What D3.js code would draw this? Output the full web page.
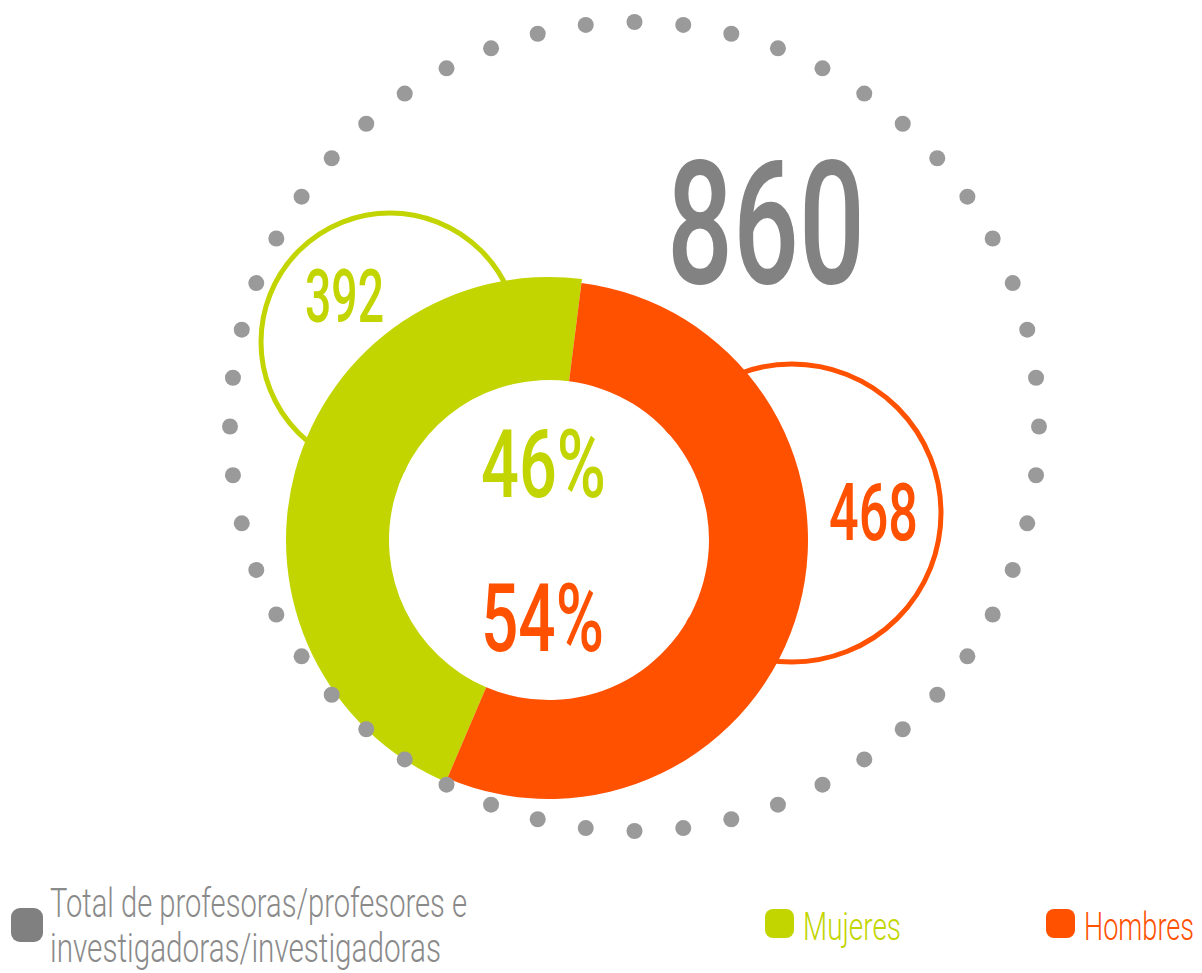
<!DOCTYPE html>
<html lang="es">
<head>
  <meta charset="UTF-8">
  <title>Profesoras y profesores</title>
  <script src="https://d3js.org/d3.v7.min.js"></script>
  <style>
    body { margin: 0; background: #fff; }
    svg { display: block; }
    text { font-family: Roboto, "Noto Sans", sans-serif; }
  </style>
</head>
<body>
  <svg width="1202" height="973"></svg>
  <script>
    // data
    const categories = ["Mujeres", "Hombres"];
    const values = [392, 468];
    const colors = ["#c2d500", "#ff5100"];
    const total = 860;
    const totalLabel = ["Total de profesoras/profesores e", "investigadoras/investigadoras"];

    const svg = d3.select("svg");
    const pct = d3.format(".0%");

    // condensed look: squeeze text to a given width
    function fit(sel, w) {
      return sel.attr("textLength", w).attr("lengthAdjust", "spacingAndGlyphs");
    }

    // outer dotted ring
    const ring = { cx: 634.5, cy: 426.5, r: 404.5, n: 52 };
    const dotAngle = d3.scaleLinear().domain([0, ring.n]).range([0, 2 * Math.PI]);

    // small bubbles with counts
    const bubbles = [
      { cx: 390, cy: 342, r: 129, tx: 305, ty: 322, size: 74, w: 79 },
      { cx: 792, cy: 513, r: 149, tx: 829, ty: 540, size: 80, w: 89 }
    ];
    bubbles.forEach((b, i) => {
      svg.append("circle")
        .attr("cx", b.cx).attr("cy", b.cy).attr("r", b.r)
        .attr("fill", "none")
        .attr("stroke", colors[i])
        .attr("stroke-width", 5);
    });

    // donut
    const cx = 549, cy = 540, innerR = 160;
    const boundary = 7.2 * Math.PI / 180;
    const share = values[0] / d3.sum(values);
    const start = boundary - share * 2 * Math.PI;
    const pie = d3.pie().sort(null).startAngle(start).endAngle(start + 2 * Math.PI);
    const arcs = pie(values);
    const outerR = [263, 259];
    const g = svg.append("g").attr("transform", `translate(${cx},${cy})`);
    g.append("circle").attr("r", innerR).attr("fill", "#fff");
    g.selectAll("path")
      .data(arcs)
      .join("path")
      .attr("d", (d, i) => d3.arc().innerRadius(innerR).outerRadius(outerR[i])(d))
      .attr("fill", (d, i) => colors[i]);

    // dots on top
    svg.append("g").selectAll("circle")
      .data(d3.range(ring.n))
      .join("circle")
      .attr("cx", i => ring.cx + ring.r * Math.sin(dotAngle(i)))
      .attr("cy", i => ring.cy - ring.r * Math.cos(dotAngle(i)))
      .attr("r", 8)
      .attr("fill", "#9a9a9a");

    // counts
    bubbles.forEach((b, i) => {
      fit(svg.append("text")
        .attr("x", b.tx).attr("y", b.ty)
        .attr("font-size", b.size)
        .attr("font-weight", 500)
        .attr("fill", colors[i])
        .text(values[i]), b.w);
    });

    // percentages
    const pctY = [497, 651];
    const pctW = [125, 123];
    values.forEach((v, i) => {
      fit(svg.append("text")
        .attr("x", 481).attr("y", pctY[i])
        .attr("font-size", 94)
        .attr("font-weight", 500)
        .attr("fill", colors[i])
        .text(pct(v / total)), pctW[i]);
    });

    // total
    fit(svg.append("text")
      .attr("x", 667).attr("y", 283)
      .attr("font-size", 173)
      .attr("font-weight", 500)
      .attr("fill", "#828282")
      .text(total), 198);

    // legend
    svg.append("rect")
      .attr("x", 11).attr("y", 908).attr("width", 32).attr("height", 34)
      .attr("rx", 9).attr("fill", "#808080");
    const lineY = [917, 962];
    const lineW = [417, 391];
    totalLabel.forEach((t, i) => {
      fit(svg.append("text")
        .attr("x", 50).attr("y", lineY[i])
        .attr("font-size", 40)
        .attr("font-weight", 300)
        .attr("fill", "#8a8a8a")
        .text(t), lineW[i]);
    });

    const legendX = [765, 1046];
    const legendW = [98, 110];
    categories.forEach((c, i) => {
      svg.append("rect")
        .attr("x", legendX[i]).attr("y", 909).attr("width", 29).attr("height", 29)
        .attr("rx", 8).attr("fill", colors[i]);
      fit(svg.append("text")
        .attr("x", legendX[i] + 38).attr("y", 940)
        .attr("font-size", 39)
        .attr("font-weight", 300)
        .attr("fill", colors[i])
        .text(c), legendW[i]);
    });
  </script>
</body>
</html>
